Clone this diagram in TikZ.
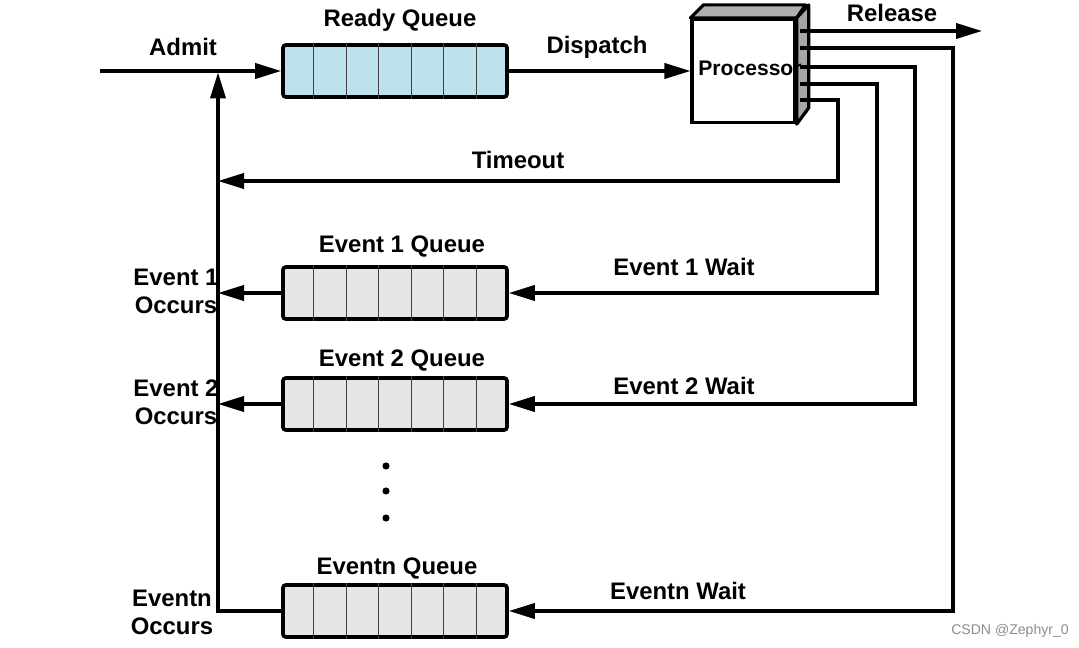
\documentclass[tikz,border=0pt]{standalone}
\usepackage{fontspec}
\setmainfont{Liberation Sans}
\usepackage{xcolor}
\definecolor{readyBack}{HTML}{BDE2EB}
\definecolor{eventBack}{HTML}{E6E6E6}
\definecolor{procSide} {HTML}{A6A6A6}
\usetikzlibrary{arrows.meta, positioning, calc}
\tikzset{
    lbl/.style={font=\fontsize{17}{20}\selectfont\bfseries, inner sep=0pt},
    flow/.style={-{Triangle[length=0.65cm, width=0.38cm]}, line width=2.3pt},
    wire/.style={-, line width=2.3pt},
}
\begin{document}
\begin{tikzpicture}[
    queue/.style={draw, line width=2.6pt, rectangle, rounded corners=2pt,
                  minimum width=5.6cm, minimum height=1.3cm, inner sep=0pt},
    rqueue/.style={queue, fill=readyBack},
    equeue/.style={queue, fill=eventBack},
    cell/.style={line width=0.8pt, black!75},
    occurs/.style={lbl, align=center},
]
\useasboundingbox (0,0) rectangle (26.975,-16.2);

% --- queues ---
\node[rqueue] (rq)  at (9.875,-1.775) {};
\node[equeue] (e1q) at (9.875,-7.325) {};
\node[equeue] (e2q) at (9.875,-10.1) {};
\node[equeue] (enq) at (9.875,-15.275) {};
\foreach \q in {rq,e1q,e2q,enq}{
    \foreach \k in {1,...,6}
        \draw[cell] ($(\q.south west)!\k/7!(\q.south east)$)
                 -- ($(\q.north west)!\k/7!(\q.north east)$);
}
\node[lbl] (rqt)  at (10.0,-0.5)   {Ready Queue};
\node[lbl] (e1qt) at (10.05,-6.175) {Event 1 Queue};
\node[lbl] (e2qt) at (10.05,-9.025) {Event 2 Queue};
\node[lbl] (enqt) at (9.925,-14.225) {Eventn Queue};

% --- processor ---
\node[draw, line width=2.3pt, fill=white, minimum width=2.575cm,
      minimum height=2.575cm, inner sep=0pt] (proc) at (18.59,-1.775) {};
\draw[line width=2.3pt, fill=procSide!90, line join=round]
    (proc.north west) -- ++(0.325,0.325) -- ++(2.55,0) -- (proc.north east) -- cycle;
\draw[line width=2.3pt, fill=procSide, line join=round]
    (proc.north east) -- ++(0.3,0.325) -- ++(0,-2.575) -- (proc.south east) -- cycle;
\node[lbl, font=\fontsize{15}{18}\selectfont\bfseries] (proct) at (18.75,-1.7) {Processor};

% --- admit / dispatch ---
\coordinate (adm) at (2.5,-1.775);
\coordinate (trunk) at (5.45,-1.775);
\draw[flow] (adm) -- (rq.west);
\draw[flow] (rq.east) -- (proc.west);
\node[lbl] (admt) at (4.575,-1.175) {Admit};
\node[lbl] (dist) at (14.925,-1.175) {Dispatch};

% --- processor exits ---
\coordinate (p1) at (20.0,-0.775);
\coordinate (p2) at (20.0,-1.2);
\coordinate (p3) at (20.0,-1.675);
\coordinate (p4) at (20.0,-2.1);
\coordinate (p5) at (20.0,-2.5);
\coordinate (tn) at (23.825,0);
\coordinate (t2) at (22.875,0);
\coordinate (t1) at (21.925,0);
\coordinate (tt) at (20.95,0);
\coordinate (rel) at (24.55,-0.775);
\coordinate (tmo) at (5.45,-4.525);

\draw[flow] (p1) -- (rel);
\node[lbl] (relt) at (22.3,-0.325) {Release};

\draw[flow] (p5) -| (tt |- tmo) -- (tmo);
\node[lbl] (tmot) at (12.95,-4.0) {Timeout};

\draw[flow] (p4) -| (t1 |- e1q.east) -- (e1q.east);
\draw[flow] (p3) -| (t2 |- e2q.east) -- (e2q.east);
\draw[flow] (p2) -| (tn |- enq.east) -- (enq.east);
\node[lbl] (e1w) at (17.1,-6.675) {Event 1 Wait};
\node[lbl] (e2w) at (17.1,-9.65)  {Event 2 Wait};
\node[lbl] (enw) at (16.95,-14.775) {Eventn Wait};

% --- back to admit ---
\draw[flow, shorten >=1pt] (enq.west) -| (trunk);
\draw[flow] (e1q.west) -- (e1q.west -| trunk);
\draw[flow] (e2q.west) -- (e2q.west -| trunk);
\node[occurs] (e1o) at (4.4,-7.275) {Event 1\\Occurs};
\node[occurs] (e2o) at (4.4,-10.05) {Event 2\\Occurs};
\node[occurs] (eno) at (4.3,-15.3)  {Eventn\\Occurs};

% --- dots ---
\foreach \y in {-11.65,-12.275,-12.95}
    \fill (9.65,\y) circle (0.09);

\node[font=\fontsize{10}{12}\selectfont, text=black!45] (wm) at (25.25,-15.775) {CSDN @Zephyr\_0};
\end{tikzpicture}
\end{document}
